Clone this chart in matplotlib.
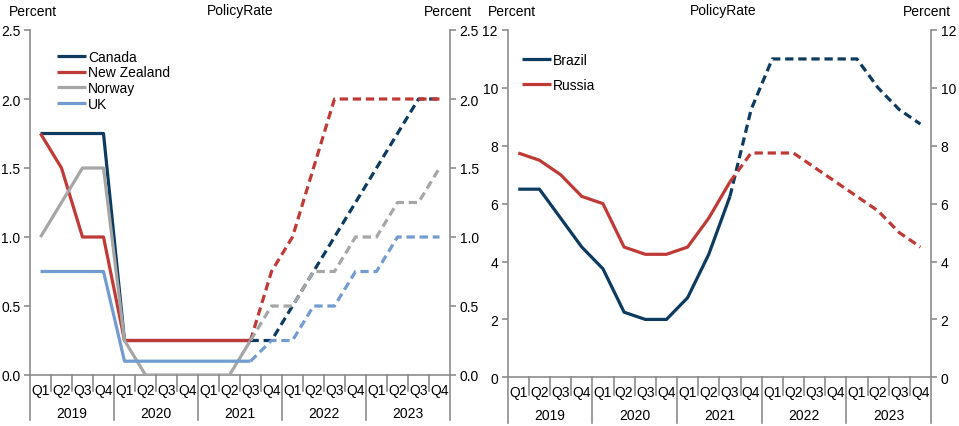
import matplotlib
matplotlib.use("Agg")
import matplotlib.pyplot as plt
from matplotlib.lines import Line2D
import matplotlib.transforms as mtransforms

plt.rcParams['font.family'] = ['Liberation Sans', 'DejaVu Sans']
plt.rcParams['font.size'] = 10

# ---------------- data ----------------
years = ["2019", "2020", "2021", "2022", "2023"]
quarters = ["Q1", "Q2", "Q3", "Q4"]

# Left panel (20 quarters 2019Q1..2023Q4); actual through 2021Q3 (index 10), forecast after
canada = [1.75, 1.75, 1.75, 1.75, 0.25, 0.25, 0.25, 0.25, 0.25, 0.25, 0.25,
          0.25, 0.5, 0.75, 1.0, 1.25, 1.5, 1.75, 2.0, 2.0]
new_zealand = [1.75, 1.5, 1.0, 1.0, 0.25, 0.25, 0.25, 0.25, 0.25, 0.25, 0.25,
               0.75, 1.0, 1.5, 2.0, 2.0, 2.0, 2.0, 2.0, 2.0]
norway = [1.0, 1.25, 1.5, 1.5, 0.25, 0.0, 0.0, 0.0, 0.0, 0.0, 0.25,
          0.5, 0.5, 0.75, 0.75, 1.0, 1.0, 1.25, 1.25, 1.5]
uk = [0.75, 0.75, 0.75, 0.75, 0.1, 0.1, 0.1, 0.1, 0.1, 0.1, 0.1,
      0.25, 0.25, 0.5, 0.5, 0.75, 0.75, 1.0, 1.0, 1.0]

# Right panel
brazil = [6.5, 6.5, 5.5, 4.5, 3.75, 2.25, 2.0, 2.0, 2.75, 4.25, 6.25,
          9.25, 11.0, 11.0, 11.0, 11.0, 11.0, 10.0, 9.25, 8.75]
russia = [7.75, 7.5, 7.0, 6.25, 6.0, 4.5, 4.25, 4.25, 4.5, 5.5, 6.75,
          7.75, 7.75, 7.75, 7.25, 6.75, 6.25, 5.75, 5.0, 4.5]

last_actual = 10  # 2021 Q3

left_series = [("Canada", canada, "#0d3a5f"),
               ("New Zealand", new_zealand, "#bf3a36"),
               ("Norway", norway, "#a6a6a6"),
               ("UK", uk, "#729bcf")]
right_series = [("Brazil", brazil, "#0d3a5f"),
                ("Russia", russia, "#bf3a36")]

W, H = 959, 427
fig = plt.figure(figsize=(W / 100, H / 100), dpi=100)

AX_COL = "#8c8c8c"
LW = 2.3
DASH = (2.6, 1.5)


def make_axes(x0, x1, ytop, ybot):
    return fig.add_axes([x0 / W, (H - ybot) / H, (x1 - x0) / W, (ybot - ytop) / H])


def style(ax, ylim, yticks, fmt, series, leg_anchor, leg_spacing):
    n = len(years) * len(quarters)
    xs = [i + 0.5 for i in range(n)]
    for name, vals, col in series:
        ax.plot(xs[:last_actual + 1], vals[:last_actual + 1], color=col, lw=LW,
                solid_capstyle='butt', label=name, zorder=3)
    for name, vals, col in series:
        ax.plot(xs[last_actual:], vals[last_actual:], color=col, lw=LW,
                dashes=DASH, dash_capstyle='butt', zorder=3)
    ax.set_xlim(0, n)
    ax.set_ylim(*ylim)
    ax.set_yticks(yticks)
    ax.set_yticklabels([fmt.format(v) for v in yticks])
    ax.set_xticks([])
    ax.spines["top"].set_visible(False)
    for s in ["left", "right", "bottom"]:
        ax.spines[s].set_color(AX_COL)
        ax.spines[s].set_linewidth(1.2)
    ax.yaxis.set_ticks_position('both')
    ax.tick_params(axis='y', direction='out', length=4, width=1.2, color=AX_COL,
                   labelright=True, labelleft=True, labelsize=10, pad=3)

    base = mtransforms.blended_transform_factory(ax.transData, ax.transAxes)

    def off(dy_px):
        return base + mtransforms.ScaledTranslation(0, -dy_px / 100, fig.dpi_scale_trans)

    for i in range(n):
        ax.text(i + 0.5, 0, quarters[i % 4], transform=off(15), ha='center',
                va='center', fontsize=10)
    for j, yr in enumerate(years):
        ax.text(j * 4 + 2, 0, yr, transform=off(38), ha='center', va='center',
                fontsize=10)

    ax.legend(loc='upper left', bbox_to_anchor=leg_anchor, frameon=False,
              borderpad=0, borderaxespad=0, handlelength=2.1,
              handletextpad=0.15, labelspacing=leg_spacing, fontsize=10)


def vsegments(ax, n, depth_q, depth_y):
    # category separators drawn from the axis downwards (pixel depths)
    for i in range(n + 1):
        depth = depth_y if i % 4 == 0 else depth_q
        x_disp = ax.transData.transform((i, 0))[0]
        y0 = ax.transAxes.transform((0, 0))[1]
        fig.add_artist(Line2D([x_disp / W, x_disp / W], [y0 / H, (y0 - depth) / H],
                              transform=fig.transFigure, color=AX_COL, lw=1.2))


axL = make_axes(30, 450, 31, 376)
style(axL, (0, 2.5), [0.0, 0.5, 1.0, 1.5, 2.0, 2.5], "{:.1f}", left_series,
      (0.064, 0.943), 0.13)
axR = make_axes(507.7, 931, 31, 378.3)
style(axR, (0, 12), [0, 2, 4, 6, 8, 10, 12], "{:d}", right_series,
      (0.033, 0.933), 0.74)

fig.canvas.draw()
vsegments(axL, 20, 16, 45)
vsegments(axR, 20, 18, 46)

# header texts
fig.text(33 / W, 1 - 12 / H, "Percent", ha='center', va='center', fontsize=10)
fig.text(240 / W, 1 - 11 / H, "PolicyRate", ha='center', va='center', fontsize=10)
fig.text(448 / W, 1 - 12 / H, "Percent", ha='center', va='center', fontsize=10)
fig.text(512 / W, 1 - 12 / H, "Percent", ha='center', va='center', fontsize=10)
fig.text(723 / W, 1 - 11 / H, "PolicyRate", ha='center', va='center', fontsize=10)
fig.text(927 / W, 1 - 12 / H, "Percent", ha='center', va='center', fontsize=10)

fig.savefig("out.png", dpi=100)
